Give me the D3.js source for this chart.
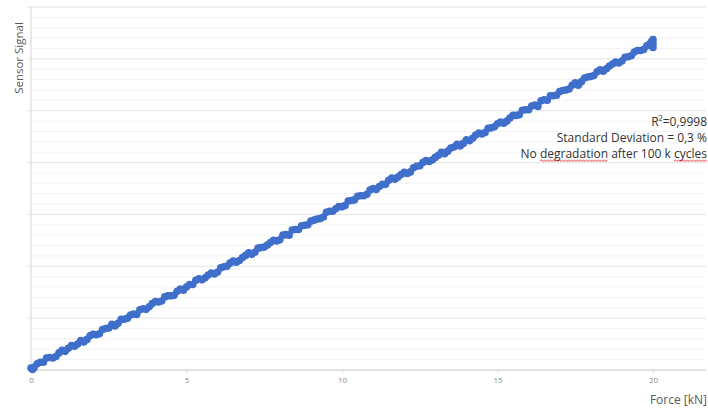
<!DOCTYPE html>
<html><head><meta charset="utf-8">
<script src="https://cdn.jsdelivr.net/npm/d3@7"></script>
<style>body{margin:0;background:#fff}svg{display:block}</style>
</head><body>
<svg id="c" width="708" height="410"></svg>
<script>
const xTicks = [0, 5, 10, 15, 20];
const force = [0,0.2,0.4,0.6,0.8,1,1.2,1.4,1.6,1.8,2,2.2,2.4,2.6,2.8,3,3.2,3.4,3.6,3.8,4,4.2,4.4,4.6,4.8,5,5.2,5.4,5.6,5.8,6,6.2,6.4,6.6,6.8,7,7.2,7.4,7.6,7.8,8,8.2,8.4,8.6,8.8,9,9.2,9.4,9.6,9.8,10,10.2,10.4,10.6,10.8,11,11.2,11.4,11.6,11.8,12,12.2,12.4,12.6,12.8,13,13.2,13.4,13.6,13.8,14,14.2,14.4,14.6,14.8,15,15.2,15.4,15.6,15.8,16,16.2,16.4,16.6,16.8,17,17.2,17.4,17.6,17.8,18,18.2,18.4,18.6,18.8,19,19.2,19.4,19.6,19.8,20];
const signal = [0.04,0.12,0.15,0.24,0.26,0.38,0.42,0.46,0.57,0.59,0.69,0.70,0.80,0.88,0.90,0.98,1.06,1.07,1.18,1.22,1.32,1.33,1.43,1.44,1.56,1.60,1.65,1.76,1.78,1.87,1.89,1.99,2.06,2.08,2.17,2.26,2.27,2.36,2.41,2.50,2.51,2.61,2.70,2.71,2.79,2.87,2.91,2.95,3.06,3.11,3.15,3.26,3.28,3.36,3.39,3.50,3.54,3.58,3.70,3.72,3.81,3.82,3.93,4.00,4.02,4.10,4.20,4.22,4.30,4.32,4.44,4.47,4.57,4.58,4.67,4.75,4.76,4.86,4.91,5.01,5.02,5.11,5.19,5.20,5.29,5.37,5.40,5.49,5.49,5.63,5.66,5.75,5.76,5.86,5.94,5.96,6.04,6.13,6.16,6.25,6.29];
const force2 = [0.1,0.3,0.5,0.7,0.9,1.1,1.3,1.5,1.7,1.9,2.1,2.3,2.5,2.7,2.9,3.1,3.3,3.5,3.7,3.9,4.1,4.3,4.5,4.7,4.9,5.1,5.3,5.5,5.7,5.9,6.1,6.3,6.5,6.7,6.9,7.1,7.3,7.5,7.7,7.9,8.1,8.3,8.5,8.7,8.9,9.1,9.3,9.5,9.7,9.9,10.1,10.3,10.5,10.7,10.9,11.1,11.3,11.5,11.7,11.9,12.1,12.3,12.5,12.7,12.9,13.1,13.3,13.5,13.7,13.9,14.1,14.3,14.5,14.7,14.9,15.1,15.3,15.5,15.7,15.9,16.1,16.3,16.5,16.7,16.9,17.1,17.3,17.5,17.7,17.9,18.1,18.3,18.5,18.7,18.9,19.1,19.3,19.5,19.7,19.9,20,20,19.95,0.05];
const signal2 = [0.05,0.15,0.23,0.23,0.33,0.36,0.47,0.50,0.54,0.66,0.68,0.78,0.81,0.85,0.98,1.00,1.08,1.16,1.17,1.28,1.31,1.41,1.43,1.52,1.54,1.65,1.73,1.74,1.83,1.85,1.97,2.00,2.10,2.11,2.21,2.23,2.35,2.37,2.46,2.49,2.60,2.60,2.71,2.78,2.80,2.89,2.92,3.04,3.06,3.15,3.17,3.27,3.35,3.36,3.47,3.48,3.58,3.66,3.68,3.77,3.79,3.90,3.94,4.04,4.05,4.14,4.17,4.28,4.35,4.37,4.42,4.53,4.55,4.66,4.69,4.78,4.80,4.91,4.92,5.02,5.09,5.08,5.21,5.29,5.30,5.39,5.42,5.54,5.56,5.65,5.68,5.79,5.81,5.90,5.92,6.03,6.06,6.16,6.18,6.29,6.37,6.22,6.33,0.01];
const annotation = ["R²=0,9998", "Standard Deviation = 0,3 %", "No degradation after 100 k cycles"];
const xLabel = "Force [kN]";
const yLabel = "Sensor Signal";

const svg = d3.select("#c");
const x = d3.scaleLinear().domain([0, 20 * (706 - 31) / (653 - 31)]).range([31, 706]);
const y = d3.scaleLinear().domain([0, 7]).range([370, 7]);

// minor grid
const minor = d3.range(0, 7.001, 0.2).filter(v => Math.abs(v - Math.round(v)) > 1e-6);
svg.append("g").selectAll("line").data(minor).join("line")
  .attr("x1", x(0)).attr("x2", 706).attr("y1", d => y(d)).attr("y2", d => y(d))
  .attr("stroke", "#f3f3f3").attr("stroke-width", 1);
// major grid
const major = d3.range(1, 8);
svg.append("g").selectAll("line").data(major).join("line")
  .attr("x1", x(0) - 4).attr("x2", 706).attr("y1", d => y(d)).attr("y2", d => y(d))
  .attr("stroke", "#e4e4e4").attr("stroke-width", 1);

// axes lines
svg.append("line").attr("x1", x(0)).attr("x2", x(0)).attr("y1", y(7)).attr("y2", y(0))
  .attr("stroke", "#d9d9d9").attr("stroke-width", 1.2);
const xAxis = d3.axisBottom(x).tickValues(xTicks).tickSize(3).tickPadding(4).tickFormat(d3.format("d"));
const gx = svg.append("g").attr("transform", `translate(0,${y(0)})`).call(xAxis);
gx.select(".domain").attr("stroke", "#d9d9d9").attr("stroke-width", 1.5).attr("d", `M${x(0)},0H706`);
gx.selectAll(".tick line").attr("stroke", "#d9d9d9");
gx.selectAll(".tick text").attr("fill", "#8c8c8c").attr("font-family", "Open Sans, sans-serif").attr("font-size", 8);

// points
const pts = force.map((f, i) => [f, signal[i]]).concat(force2.map((f, i) => [f, signal2[i]]));
svg.append("g").selectAll("circle").data(pts).join("circle")
  .attr("cx", d => x(d[0])).attr("cy", d => y(d[1])).attr("r", 3.8)
  .attr("fill", "#3f6fca");

// labels
svg.append("text").attr("transform", "translate(23,58) rotate(-90)")
  .attr("text-anchor", "middle").attr("font-family", "Open Sans, sans-serif").attr("font-size", 11.5)
  .attr("fill", "#595959").text(yLabel);
svg.append("text").attr("x", 707).attr("y", 404).attr("text-anchor", "end")
  .attr("font-family", "Open Sans, sans-serif").attr("font-size", 12)
  .attr("fill", "#595959").text(xLabel);

const ann = svg.append("g").attr("font-family", "Open Sans, sans-serif").attr("font-size", 12)
  .attr("fill", "#333333").attr("text-anchor", "end");
const texts = ann.selectAll("text").data(annotation).join("text")
  .attr("x", 707).attr("y", (d, i) => 126 + i * 16).text(d => d);

// spell-check style red wavy underline
const last = texts.filter((d, i) => i === 2).node();
const full = annotation[2];
function wavy(word) {
  const idx = full.indexOf(word);
  const total = last.getComputedTextLength();
  const start = 707 - total + last.getSubStringLength(0, idx);
  const w = last.getSubStringLength(idx, word.length);
  let p = `M${start},161`;
  let up = true;
  for (let xx = start + 1.5; xx <= start + w; xx += 1.5) { p += `L${xx},${up ? 159.8 : 161.6}`; up = !up; }
  svg.append("path").attr("d", p).attr("fill", "none").attr("stroke", "#e03030").attr("stroke-width", 0.8);
}
wavy("degradation");
wavy("cycles");
</script>
</body></html>
